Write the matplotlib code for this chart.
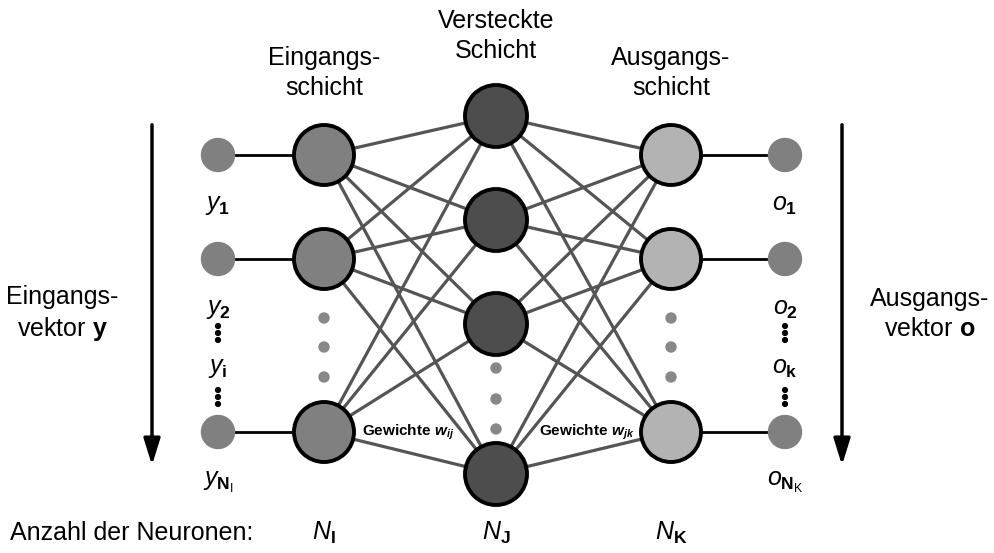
import matplotlib
matplotlib.use("Agg")
import matplotlib.pyplot as plt
from matplotlib.patches import Circle

plt.rcParams['font.family'] = ['Liberation Sans', 'DejaVu Sans']
plt.rcParams['mathtext.fontset'] = 'custom'
plt.rcParams['mathtext.rm'] = 'Liberation Sans'
plt.rcParams['mathtext.it'] = 'Liberation Sans:italic'
plt.rcParams['mathtext.bf'] = 'Liberation Sans:bold'
plt.rcParams['mathtext.bfit'] = 'Liberation Sans:italic:bold'

# layer positions (pixel units of the canvas)
x_in_small, x_in, x_hid, x_out, x_out_small = 218, 324, 496, 671, 785
in_y = [155, 259, 432]
hid_y = [116, 220, 324, 474]
out_y = [155, 259, 432]
in_dots = [318, 347, 377]
hid_dots = [368, 399, 429]

in_labels = [r'$\mathit{y}_{\mathbf{1}}$', r'$\mathit{y}_{\mathbf{2}}$', r'$\mathit{y}_{\mathbf{N}_{\mathrm{I}}}$']
out_labels = [r'$\mathit{o}_{\mathbf{1}}$', r'$\mathit{o}_{\mathbf{2}}$', r'$\mathit{o}_{\mathbf{N}_{\mathrm{K}}}$']
mid_in_label = r'$\mathit{y}_{\mathbf{i}}$'
mid_out_label = r'$\mathit{o}_{\mathbf{k}}$'
count_labels = [r'$\mathit{N}_{\mathbf{I}}$', r'$\mathit{N}_{\mathbf{J}}$', r'$\mathit{N}_{\mathbf{K}}$']

c_in, c_hid, c_out, c_small = '#808080', '#4d4d4d', '#b3b3b3', '#808080'
edge_c = '#555555'

fig = plt.figure(figsize=(9.94, 5.53), dpi=100)
ax = fig.add_axes([0, 0, 1, 1])
ax.set_xlim(0, 994)
ax.set_ylim(553, 0)
ax.set_aspect('equal')
ax.axis('off')

# weights
for yi in in_y:
    for yj in hid_y:
        ax.plot([x_in, x_hid], [yi, yj], color=edge_c, lw=2.3, zorder=1)
for yj in hid_y:
    for yk in out_y:
        ax.plot([x_hid, x_out], [yj, yk], color=edge_c, lw=2.3, zorder=1)

# input/output connections
for y in in_y:
    ax.plot([x_in_small, x_in], [y, y], color='black', lw=2, zorder=1)
    ax.add_patch(Circle((x_in_small, y), 16.5, color=c_small, zorder=3))
    ax.add_patch(Circle((x_in, y), 30, facecolor=c_in, edgecolor='black', lw=2.8, zorder=3))
for y in out_y:
    ax.plot([x_out, x_out_small], [y, y], color='black', lw=2, zorder=1)
    ax.add_patch(Circle((x_out_small, y), 16.5, color=c_small, zorder=3))
    ax.add_patch(Circle((x_out, y), 30, facecolor=c_out, edgecolor='black', lw=2.8, zorder=3))
for y in hid_y:
    ax.add_patch(Circle((x_hid, y), 31, facecolor=c_hid, edgecolor='black', lw=2.8, zorder=3))

for y in in_dots:
    ax.add_patch(Circle((x_in, y), 5, color='#888888', zorder=3))
    ax.add_patch(Circle((x_out, y), 5, color='#888888', zorder=3))
for y in hid_dots:
    ax.add_patch(Circle((x_hid, y), 5, color='#888888', zorder=3))

# node labels
fs = 18
for y, lab in zip(in_y, in_labels):
    ax.text(x_in_small, y + 50, lab, ha='center', va='center', fontsize=fs)
for y, lab in zip(out_y, out_labels):
    ax.text(x_out_small, y + 50, lab, ha='center', va='center', fontsize=fs)
ax.text(x_in_small, 368, mid_in_label, ha='center', va='center', fontsize=fs)
ax.text(x_out_small, 368, mid_out_label, ha='center', va='center', fontsize=fs)
for x in (x_in_small, x_out_small):
    for yc in (333, 397):
        for d in (-7, 0, 7):
            ax.add_patch(Circle((x, yc + d), 2.4, color='black', zorder=3))

# headers
ax.text(x_in, 73, 'Eingangs-\nschicht', ha='center', va='center', fontsize=fs, linespacing=1.3)
ax.text(x_hid, 36, 'Versteckte\nSchicht', ha='center', va='center', fontsize=fs, linespacing=1.3)
ax.text(x_out, 73, 'Ausgangs-\nschicht', ha='center', va='center', fontsize=fs, linespacing=1.3)

# side vectors
ax.text(62, 314, 'Eingangs-\nvektor $\\mathbf{y}$', ha='center', va='center', fontsize=fs, linespacing=1.3)
ax.text(930, 314, 'Ausgangs-\nvektor $\\mathbf{o}$', ha='center', va='center', fontsize=fs, linespacing=1.3)
for x in (152, 842):
    ax.annotate('', xy=(x, 468), xytext=(x, 122),
                arrowprops=dict(arrowstyle='-|>,head_width=0.5,head_length=1.6', color='black', lw=2.5))

# weight labels
ax.text(408, 432, 'Gewichte $\\mathbfit{w}_{\\mathbfit{ij}}$', ha='center', va='center', fontsize=11, fontweight='bold', zorder=4)
ax.text(587, 432, 'Gewichte $\\mathbfit{w}_{\\mathbfit{jk}}$', ha='center', va='center', fontsize=11, fontweight='bold', zorder=4)

# counts row
ax.text(10, 533, 'Anzahl der Neuronen:', ha='left', va='center', fontsize=fs)
for x, lab in zip((x_in, x_hid, x_out), count_labels):
    ax.text(x, 533, lab, ha='center', va='center', fontsize=fs)

fig.savefig('out.png', dpi=100)
